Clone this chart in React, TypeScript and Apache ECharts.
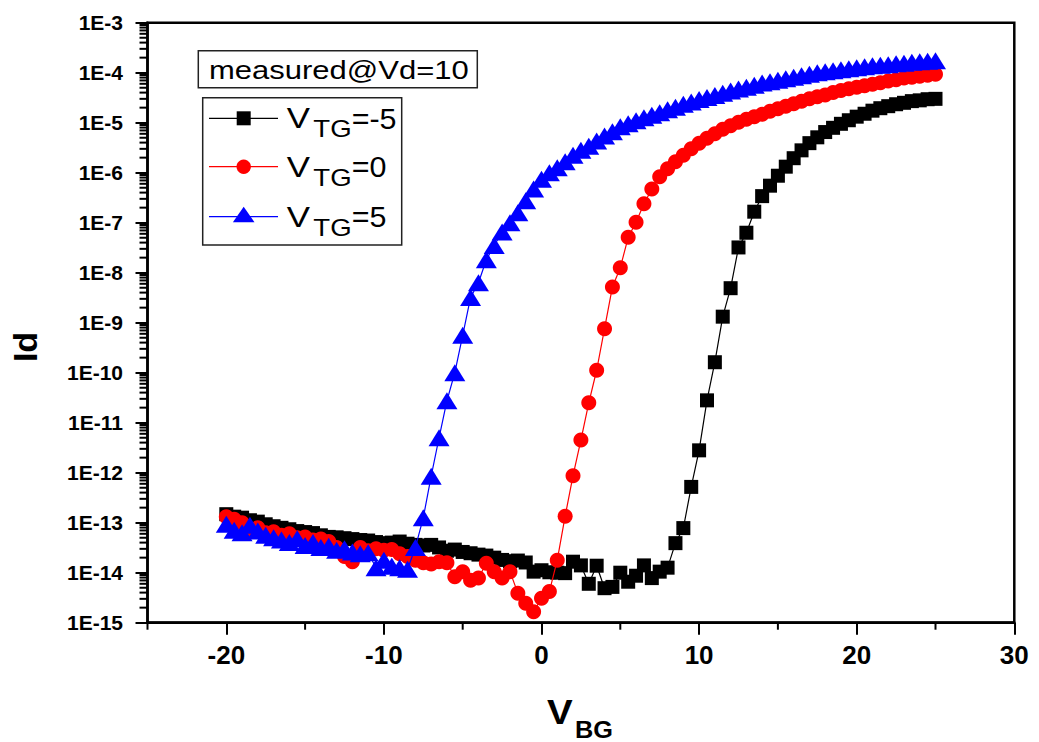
import { useEffect, useRef } from "react";
import * as echarts from "echarts";

// Back-gate voltage sweep (V)
const vbg = [
  -20, -19.5, -19, -18.5, -18, -17.5, -17, -16.5, -16, -15.5,
  -15, -14.5, -14, -13.5, -13, -12.5, -12, -11.5, -11, -10.5,
  -10, -9.5, -9, -8.5, -8, -7.5, -7, -6.5, -6, -5.5,
  -5, -4.5, -4, -3.5, -3, -2.5, -2, -1.5, -1, -0.5,
  0, 0.5, 1, 1.5, 2, 2.5, 3, 3.5, 4, 4.5,
  5, 5.5, 6, 6.5, 7, 7.5, 8, 8.5, 9, 9.5,
  10, 10.5, 11, 11.5, 12, 12.5, 13, 13.5, 14, 14.5,
  15, 15.5, 16, 16.5, 17, 17.5, 18, 18.5, 19, 19.5,
  20, 20.5, 21, 21.5, 22, 22.5, 23, 23.5, 24, 24.5, 25,
];

// Drain current Id (A) at V_TG = -5
const idVtgMinus5 = [
  1.48e-13, 1.32e-13, 1.26e-13, 1.12e-13, 1.05e-13, 9.3e-14, 8.5e-14, 7.9e-14, 7.4e-14, 6.8e-14,
  6.5e-14, 6.2e-14, 5.6e-14, 5.2e-14, 5.1e-14, 4.9e-14, 4.7e-14, 4.5e-14, 4.4e-14, 4.1e-14,
  3.9e-14, 4.0e-14, 4.2e-14, 3.8e-14, 3.6e-14, 3.5e-14, 3.6e-14, 3.2e-14, 2.75e-14, 2.9e-14,
  2.6e-14, 2.45e-14, 2.3e-14, 2.2e-14, 2.0e-14, 1.8e-14, 1.7e-14, 1.75e-14, 1.6e-14, 1.05e-14,
  1.12e-14, 1.02e-14, 1.0e-14, 9.8e-15, 1.66e-14, 1.4e-14, 6.0e-15, 1.38e-14, 4.9e-15, 5.2e-15,
  1.0e-14, 6.6e-15, 8.7e-15, 1.4e-14, 7.8e-15, 1.05e-14, 1.26e-14, 3.9e-14, 7.8e-14, 5.2e-13,
  2.8e-12, 2.8e-11, 1.62e-10, 1.32e-9, 4.9e-9, 3.2e-8, 6.3e-8, 1.66e-7, 3.4e-7, 5.5e-7,
  8.7e-7, 1.32e-6, 1.95e-6, 2.8e-6, 3.9e-6, 5.1e-6, 6.5e-6, 7.9e-6, 9.5e-6, 1.12e-5,
  1.32e-5, 1.51e-5, 1.74e-5, 1.95e-5, 2.14e-5, 2.34e-5, 2.5e-5, 2.7e-5, 2.8e-5, 2.95e-5, 3.0e-5,
];

// Drain current Id (A) at V_TG = 0
const idVtg0 = [
  1.32e-13, 1.17e-13, 1.0e-13, 7.1e-14, 7.9e-14, 6.3e-14, 6.6e-14, 5.6e-14, 6.0e-14, 5.0e-14,
  5.2e-14, 4.5e-14, 4.7e-14, 4.2e-14, 3.2e-14, 2.1e-14, 1.66e-14, 3.2e-14, 2.75e-14, 3.0e-14,
  2.8e-14, 2.9e-14, 2.4e-14, 2.1e-14, 1.78e-14, 1.58e-14, 1.5e-14, 1.66e-14, 1.58e-14, 8.3e-15,
  1.05e-14, 7.1e-15, 7.8e-15, 1.55e-14, 1.05e-14, 7.8e-15, 1.05e-14, 3.9e-15, 2.45e-15, 1.66e-15,
  3.1e-15, 4.2e-15, 1.78e-14, 1.35e-13, 8.7e-13, 4.5e-12, 2.5e-11, 1.12e-10, 7.6e-10, 5.2e-9,
  1.26e-8, 5.1e-8, 1.02e-7, 2.4e-7, 4.7e-7, 8.3e-7, 1.2e-6, 1.66e-6, 2.24e-6, 3.0e-6,
  3.9e-6, 4.9e-6, 6.0e-6, 7.4e-6, 8.7e-6, 1.02e-5, 1.17e-5, 1.32e-5, 1.48e-5, 1.7e-5,
  1.9e-5, 2.14e-5, 2.4e-5, 2.7e-5, 3.0e-5, 3.3e-5, 3.6e-5, 4.0e-5, 4.4e-5, 4.8e-5,
  5.1e-5, 5.5e-5, 5.9e-5, 6.3e-5, 6.8e-5, 7.2e-5, 7.8e-5, 8.1e-5, 8.5e-5, 8.9e-5, 9.3e-5,
];

// Drain current Id (A) at V_TG = 5
const idVtg5 = [
  9.3e-14, 7.1e-14, 6.3e-14, 8.9e-14, 6.8e-14, 5.6e-14, 5.0e-14, 4.5e-14, 4.0e-14, 4.8e-14,
  3.5e-14, 4.0e-14, 3.2e-14, 3.4e-14, 2.8e-14, 3.0e-14, 2.6e-14, 2.4e-14, 2.5e-14, 1.26e-14,
  1.78e-14, 1.35e-14, 1.26e-14, 1.17e-14, 3.2e-14, 1.26e-13, 8.5e-13, 5.0e-12, 2.75e-11, 1.0e-10,
  5.6e-10, 3.2e-9, 6.3e-9, 1.82e-8, 3.5e-8, 6.5e-8, 1.0e-7, 1.58e-7, 2.75e-7, 4.7e-7,
  7.4e-7, 1.0e-6, 1.26e-6, 1.66e-6, 2.24e-6, 2.8e-6, 3.4e-6, 4.3e-6, 5.4e-6, 6.6e-6,
  8.3e-6, 9.5e-6, 1.1e-5, 1.26e-5, 1.41e-5, 1.58e-5, 1.82e-5, 2.04e-5, 2.34e-5, 2.6e-5,
  2.9e-5, 3.2e-5, 3.5e-5, 3.9e-5, 4.3e-5, 4.7e-5, 5.1e-5, 5.6e-5, 6.2e-5, 6.6e-5,
  7.1e-5, 7.6e-5, 8.1e-5, 8.7e-5, 9.3e-5, 1.0e-4, 1.05e-4, 1.1e-4, 1.15e-4, 1.2e-4,
  1.26e-4, 1.32e-4, 1.38e-4, 1.41e-4, 1.45e-4, 1.51e-4, 1.55e-4, 1.62e-4, 1.66e-4, 1.7e-4, 1.74e-4,
];

const seriesNames = ["VTG=-5", "VTG=0", "VTG=5"];
const legendValues = ["=-5", "=0", "=5"];
const seriesColors = ["#000000", "#ff0000", "#0000ff"];

const xTickValues = [-20, -10, 0, 10, 20, 30];
const xMinorTickValues = [-25, -15, -5, 5, 15, 25];
const yTickValues = [1e-15, 1e-14, 1e-13, 1e-12, 1e-11, 1e-10, 1e-9, 1e-8, 1e-7, 1e-6, 1e-5, 1e-4, 1e-3];
const yTickLabels = ["1E-15", "1E-14", "1E-13", "1E-12", "1E-11", "1E-10", "1E-9", "1E-8", "1E-7", "1E-6", "1E-5", "1E-4", "1E-3"];

const X_MIN = -25;
const X_MAX = 30;
const Y_MIN = 1e-15;
const Y_MAX = 1e-3;

const FONT = '"Liberation Sans", Arial, Helvetica, sans-serif';

// 2..9 × 10^n minor ticks on the log axis
const yMinorTicks: number[] = [];
for (let e = -15; e < -3; e++) {
  for (let k = 2; k <= 9; k++) yMinorTicks.push(k * Math.pow(10, e));
}

const pairs = (ys: number[]) => vbg.map((x, i) => [x, ys[i]]);

function buildLegend() {
  const rows = [118.3, 166.7, 216.7];
  const els: any[] = [];
  els.push({
    type: "rect",
    shape: { x: 198.3, y: 50.7, width: 279, height: 37 },
    style: { fill: "#fff", stroke: "#222", lineWidth: 1.5 },
    z: 100,
  });
  els.push({
    type: "text",
    x: 209,
    y: 71,
    scaleX: 1.24,
    z: 101,
    style: { text: "measured@Vd=10", fill: "#000", fontFamily: FONT, fontSize: 25, align: "left", verticalAlign: "middle" },
  });
  els.push({
    type: "rect",
    shape: { x: 202.7, y: 97.7, width: 199, height: 147.3 },
    style: { fill: "#fff", stroke: "#222", lineWidth: 1.5 },
    z: 100,
  });
  rows.forEach((yc, i) => {
    const color = seriesColors[i];
    els.push({ type: "line", shape: { x1: 209, y1: yc, x2: 278, y2: yc }, style: { stroke: color, lineWidth: 1.2 }, z: 101 });
    if (i === 0) {
      els.push({ type: "rect", shape: { x: 236.7, y: yc - 7, width: 14, height: 14 }, style: { fill: color }, z: 102 });
    } else if (i === 1) {
      els.push({ type: "circle", shape: { cx: 243.7, cy: yc, r: 7.2 }, style: { fill: color }, z: 102 });
    } else {
      els.push({
        type: "polygon",
        shape: { points: [[243.7, yc - 10], [254.5, yc + 5.5], [232.9, yc + 5.5]] },
        style: { fill: color },
        z: 102,
      });
    }
    els.push({
      type: "text", x: 286.7, y: yc, scaleX: 1.2, z: 102,
      style: { text: "V", fill: "#000", fontFamily: FONT, fontSize: 29, align: "left", verticalAlign: "middle" },
    });
    els.push({
      type: "text", x: 313.3, y: yc + 10.8, scaleX: 1.15, z: 102,
      style: { text: "TG", fill: "#000", fontFamily: FONT, fontSize: 24, align: "left", verticalAlign: "middle" },
    });
    els.push({
      type: "text", x: 351.7, y: yc, scaleX: 1.05, z: 102,
      style: { text: legendValues[i], fill: "#000", fontFamily: FONT, fontSize: 29, align: "left", verticalAlign: "middle" },
    });
  });
  return els;
}

function buildAxisTitles() {
  return [
    {
      type: "text", x: 24.5, y: 347, rotation: Math.PI / 2, z: 50,
      style: { text: "Id", fill: "#000", fontFamily: FONT, fontWeight: "bold", fontSize: 34, align: "center", verticalAlign: "middle" },
    },
    {
      type: "text", x: 547, y: 712.5, scaleX: 1.1, z: 50,
      style: { text: "V", fill: "#000", fontFamily: FONT, fontWeight: "bold", fontSize: 35, align: "left", verticalAlign: "middle" },
    },
    {
      type: "text", x: 575, y: 730, scaleX: 1.1, z: 50,
      style: { text: "BG", fill: "#000", fontFamily: FONT, fontWeight: "bold", fontSize: 23, align: "left", verticalAlign: "middle" },
    },
  ];
}

// Short outward tick marks placed through the axes' own scales
function minorTickSeries(data: number[][], dx: number, dy: number, width: number) {
  return {
    type: "custom",
    coordinateSystem: "cartesian2d",
    data,
    clip: false,
    silent: true,
    z: 10,
    renderItem: (_params: any, api: any) => {
      const p = api.coord([api.value(0), api.value(1)]);
      return {
        type: "line",
        shape: { x1: p[0], y1: p[1], x2: p[0] + dx, y2: p[1] + dy },
        style: { stroke: "#000", lineWidth: width },
      };
    },
  };
}

const symbols = ["rect", "circle", "triangle"];
const symbolSizes: any[] = [14, 15, [21, 17]];
const seriesData = [idVtgMinus5, idVtg0, idVtg5];

const option: any = {
  animation: false,
  backgroundColor: "#ffffff",
  textStyle: { fontFamily: FONT },
  grid: {
    left: 147.5,
    right: 24.7,
    top: 22.7,
    bottom: 119.3,
    show: true,
    borderColor: "#000",
    borderWidth: 2.5,
    backgroundColor: "transparent",
    containLabel: false,
    outerBoundsMode: "none",
  },
  xAxis: {
    type: "value",
    min: X_MIN,
    max: X_MAX,
    position: "bottom",
    axisLine: { show: true, onZero: false, lineStyle: { color: "#000", width: 2.5 } },
    axisTick: { show: true, inside: false, length: 12, customValues: xTickValues, lineStyle: { color: "#000", width: 2 } },
    axisLabel: {
      show: true,
      customValues: xTickValues,
      margin: 19,
      color: "#000",
      fontFamily: FONT,
      fontWeight: "bold",
      fontSize: 26,
    },
    splitLine: { show: false },
  },
  yAxis: {
    type: "log",
    logBase: 10,
    min: Y_MIN,
    max: Y_MAX,
    position: "left",
    axisLine: { show: true, onZero: false, lineStyle: { color: "#000", width: 2.5 } },
    axisTick: { show: true, inside: false, length: 12, customValues: yTickValues, lineStyle: { color: "#000", width: 2 } },
    axisLabel: {
      show: true,
      customValues: yTickValues,
      formatter: (v: number) => yTickLabels[Math.round(Math.log10(v)) + 15],
      margin: 24.5,
      color: "#000",
      fontFamily: FONT,
      fontWeight: "bold",
      fontSize: 21,
    },
    splitLine: { show: false },
    minorTick: { show: false },
  },
  series: [
    ...seriesData.map((ys, i) => ({
      name: seriesNames[i],
      type: "line",
      data: pairs(ys),
      symbol: symbols[i],
      symbolSize: symbolSizes[i],
      showSymbol: true,
      showAllSymbol: true,
      color: seriesColors[i],
      itemStyle: { color: seriesColors[i] },
      lineStyle: { color: seriesColors[i], width: 1.2 },
      emphasis: { disabled: true },
      z: 2 + i,
    })),
    minorTickSeries(yMinorTicks.map((v) => [X_MIN, v]), -8, 0, 2),
    minorTickSeries(xMinorTickValues.map((v) => [v, Y_MIN]), 0, 7, 2),
  ],
  graphic: [...buildAxisTitles(), ...buildLegend()],
};

export default function App() {
  const ref = useRef<HTMLDivElement>(null);
  useEffect(() => {
    if (!ref.current) return;
    const chart = echarts.init(ref.current, null, { renderer: "svg" });
    chart.setOption(option);
    return () => chart.dispose();
  }, []);
  return (
    <div
      ref={ref}
      style={{ position: "fixed", left: 0, top: 0, width: 1039, height: 742, background: "#fff" }}
    />
  );
}
